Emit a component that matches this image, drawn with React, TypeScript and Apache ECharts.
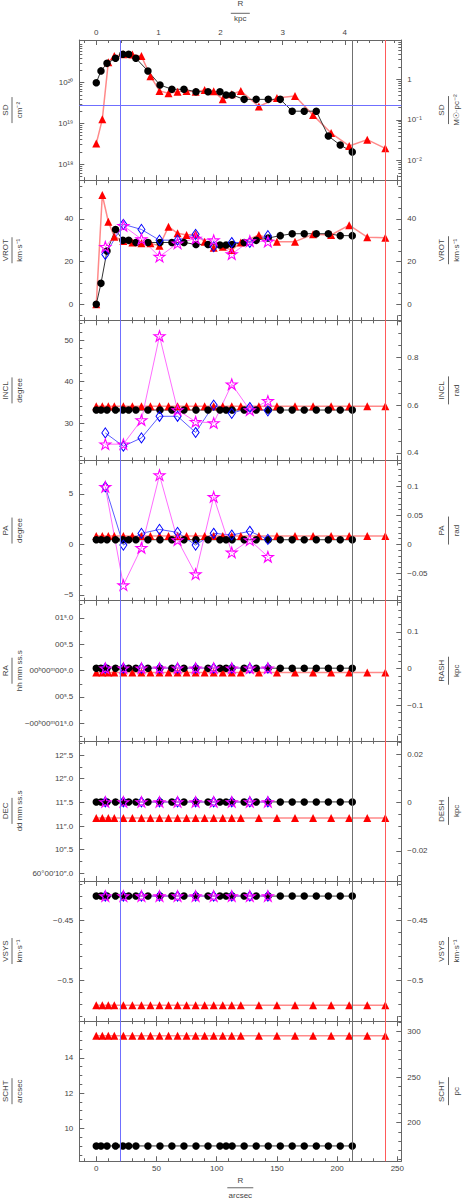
import React, { useEffect, useRef } from 'react';
import * as echarts from 'echarts';

// ---------------- data ----------------
const R_BLACK = [0, 3.9, 8.9, 16, 22.1, 26.9, 32.9, 42.9, 52.9, 62.8, 72.8, 82.8, 92.8, 102.7, 107.8, 112.8, 122.8, 132.8, 142.8, 152.8, 162.7, 172.7, 182.7, 192.7, 202.6, 212.6];
const R_RED = [0, 5, 10, 15, 22.5, 30, 37.5, 45, 52.5, 60, 67.5, 75, 82.5, 90, 97.5, 105, 112.5, 120, 135, 150, 165, 180, 195, 210, 225, 240];
const R_FIT = [7.5, 22.5, 37.5, 52.5, 67.5, 82.5, 97.5, 112.5, 127.5, 142.5];

// surface density, cm^-2
const SD_BLACK = [1.0e20, 1.95e20, 2.99e20, 3.98e20, 5.0e20, 5.0e20, 3.98e20, 1.94e20, 8.8e19, 6.9e19, 6.9e19, 6.0e19, 6.0e19, 6.0e19, 5.0e19, 5.0e19, 3.9e19, 3.9e19, 3.9e19, 3.9e19, 2.0e19, 2.0e19, 2.0e19, 4.9e18, 2.95e18, 2.0e18];
const SD_RED = [3.2e18, 1.26e19, 3.2e20, 4.5e20, 5.0e20, 4.9e20, 4.5e20, 1.45e20, 6.3e19, 5.5e19, 6.0e19, 6.3e19, 6.0e19, 6.6e19, 6.2e19, 3.9e19, 5.2e19, 6.3e19, 2.6e19, 4.2e19, 4.7e19, 1.6e19, 5.8e18, 2.8e18, 4.0e18, 2.45e18];
const SD_CUTOFF = 2.8e19;

// rotation velocity, km/s
const VROT_BLACK = [0, 9.8, 24.9, 35.0, 29.9, 29.9, 28.9, 28.9, 28.9, 28.9, 28.9, 28.0, 28.0, 27.7, 27.7, 28.0, 28.9, 29.9, 31.0, 32.1, 33.0, 33.0, 33.0, 33.0, 32.1, 32.1];
const VROT_RED = [0, 51.1, 38.6, 31.6, 29.6, 28.9, 28.5, 28.5, 27.4, 36.3, 33.2, 32.4, 32.7, 29.3, 26.5, 26.9, 25.4, 28.9, 32.4, 29.3, 29.3, 32.7, 32.4, 37.0, 31.4, 31.1];
const VROT_BLUE = [23.3, 37.4, 35.0, 30.0, 30.0, 32.7, 26.9, 28.9, 28.9, 32.1];
const VROT_MAG = [26.9, 36.7, 30.5, 22.3, 28.5, 30.8, 30.0, 23.5, 29.6, 29.3];

// inclination, degree
const INCL_BLACK = [33.2, 33.2, 33.2, 33.2, 33.2, 33.2, 33.2, 33.2, 33.2, 33.2, 33.2, 33.2, 33.2, 33.2, 33.2, 33.2, 33.2, 33.2, 33.2, 33.2, 33.2, 33.2, 33.2, 33.2, 33.2, 33.2];
const INCL_RED = [34.1, 34.1, 34.1, 34.1, 34.1, 34.1, 34.1, 34.1, 34.1, 34.1, 34.1, 34.1, 34.1, 34.1, 34.1, 34.1, 34.1, 34.1, 34.1, 34.1, 34.1, 34.1, 34.1, 34.1, 34.1, 34.1];
const INCL_BLUE = [27.7, 24.5, 26.5, 31.7, 31.7, 27.8, 34.4, 32.4, 33.8, 33.0];
const INCL_MAG = [25.0, 25.0, 30.8, 51.0, 33.2, 30.4, 30.1, 39.4, 33.2, 35.4];

// position angle, degree
const PA_BLACK = [0.46, 0.46, 0.46, 0.46, 0.46, 0.46, 0.46, 0.46, 0.46, 0.46, 0.46, 0.46, 0.46, 0.46, 0.46, 0.46, 0.46, 0.46, 0.46, 0.46, 0.46, 0.46, 0.46, 0.46, 0.46, 0.46];
const PA_RED = [0.83, 0.83, 0.83, 0.83, 0.83, 0.83, 0.83, 0.83, 0.83, 0.83, 0.83, 0.83, 0.83, 0.83, 0.83, 0.83, 0.83, 0.83, 0.83, 0.83, 0.83, 0.83, 0.83, 0.83, 0.83, 0.83];
const PA_BLUE = [5.7, -0.07, 1.09, 1.48, 1.19, -0.07, 1.1, 0.93, 1.3, 0.5];
const PA_MAG = [5.7, -4.03, -0.33, 6.86, 0.43, -2.94, 4.71, -0.79, 0.43, -1.22];

// RA offset, s
const RA_BLACK = [0.045, 0.045, 0.045, 0.045, 0.045, 0.045, 0.045, 0.045, 0.045, 0.045, 0.045, 0.045, 0.045, 0.045, 0.045, 0.045, 0.045, 0.045, 0.045, 0.045, 0.045, 0.045, 0.045, 0.045, 0.045, 0.045];
const RA_RED = [-0.038, -0.038, -0.038, -0.038, -0.038, -0.038, -0.038, -0.038, -0.038, -0.038, -0.038, -0.038, -0.038, -0.038, -0.038, -0.038, -0.038, -0.038, -0.038, -0.038, -0.038, -0.038, -0.038, -0.038, -0.038, -0.038];
const RA_BLUE = [0.045, 0.045, 0.045, 0.045, 0.045, 0.045, 0.045, 0.045, 0.045, 0.045];
const RA_MAG = [0.045, 0.045, 0.045, 0.045, 0.045, 0.045, 0.045, 0.045, 0.045, 0.045];

// DEC, arcsec (60°00'xx")
const DEC_BLACK = [11.51, 11.51, 11.51, 11.51, 11.51, 11.51, 11.51, 11.51, 11.51, 11.51, 11.51, 11.51, 11.51, 11.51, 11.51, 11.51, 11.51, 11.51, 11.51, 11.51, 11.51, 11.51, 11.51, 11.51, 11.51, 11.51];
const DEC_RED = [11.17, 11.17, 11.17, 11.17, 11.17, 11.17, 11.17, 11.17, 11.17, 11.17, 11.17, 11.17, 11.17, 11.17, 11.17, 11.17, 11.17, 11.17, 11.17, 11.17, 11.17, 11.17, 11.17, 11.17, 11.17, 11.17];
const DEC_BLUE = [11.51, 11.51, 11.51, 11.51, 11.51, 11.51, 11.51, 11.51, 11.51, 11.51];
const DEC_MAG = [11.51, 11.51, 11.51, 11.51, 11.51, 11.51, 11.51, 11.51, 11.51, 11.51];

// systemic velocity, km/s
const VSYS_BLACK = [-0.43, -0.43, -0.43, -0.43, -0.43, -0.43, -0.43, -0.43, -0.43, -0.43, -0.43, -0.43, -0.43, -0.43, -0.43, -0.43, -0.43, -0.43, -0.43, -0.43, -0.43, -0.43, -0.43, -0.43, -0.43, -0.43];
const VSYS_RED = [-0.521, -0.521, -0.521, -0.521, -0.521, -0.521, -0.521, -0.521, -0.521, -0.521, -0.521, -0.521, -0.521, -0.521, -0.521, -0.521, -0.521, -0.521, -0.521, -0.521, -0.521, -0.521, -0.521, -0.521, -0.521, -0.521];
const VSYS_BLUE = [-0.43, -0.43, -0.43, -0.43, -0.43, -0.43, -0.43, -0.43, -0.43, -0.43];
const VSYS_MAG = [-0.43, -0.43, -0.43, -0.43, -0.43, -0.43, -0.43, -0.43, -0.43, -0.43];

// scale height, arcsec
const SCHT_BLACK = [9.0, 9.0, 9.0, 9.0, 9.0, 9.0, 9.0, 9.0, 9.0, 9.0, 9.0, 9.0, 9.0, 9.0, 9.0, 9.0, 9.0, 9.0, 9.0, 9.0, 9.0, 9.0, 9.0, 9.0, 9.0, 9.0];
const SCHT_RED = [15.25, 15.25, 15.25, 15.25, 15.25, 15.25, 15.25, 15.25, 15.25, 15.25, 15.25, 15.25, 15.25, 15.25, 15.25, 15.25, 15.25, 15.25, 15.25, 15.25, 15.25, 15.25, 15.25, 15.25, 15.25, 15.25];

// reference radii (vertical lines)
const R_INNER = 20;
const R_BLACK_END = 212.6;
const R_RED_END = 240;

// tick labels
const X_TICKS = [0, 50, 100, 150, 200, 250];
const KPC_TICKS = [0, 1, 2, 3, 4];
const SCHT_TICKS = [10, 12, 14];
const ARCSEC_PER_KPC = 51.6;
const SD_LOG_OFFSET = 20.09; // log10(cm^-2 per Msun/pc^2)
const PC_PER_ARCSEC = 1000 / ARCSEC_PER_KPC;

// ---------------- styling ----------------
const FONT = '"Liberation Sans", Arial, sans-serif';
const TXT = '#444';
const FRAME = '#666';
const RED = '#ff0000';
const RED_LINE = '#ff8a8a';
const RED_VLINE = '#ff5a5a';
const BLUE = '#0000ff';
const BLUE_LINE = '#5c5cff';
const MAG = '#ff00ff';
const MAG_LINE = '#ff6cff';
const STAR = 'path://M10,0L12.245,6.91L19.51,6.91L13.63,11.18L15.88,18.09L10,13.82L4.12,18.09L6.37,11.18L0.49,6.91L7.755,6.91Z';

const CW = 463, CH = 1199;
const GL = 79.3, GR = 401.3, TOP0 = 40, PH = 140.16;
const XMIN = -14.1, XMAX = 253.3;

const SUP: Record<string, string> = { '0': '⁰', '1': '¹', '2': '²', '3': '³', '4': '⁴', '5': '⁵', '6': '⁶', '7': '⁷', '8': '⁸', '9': '⁹', '-': '⁻' };
const sup = (s: string) => s.split('').map((c) => SUP[c] || c).join('');
const num = (v: number) => (v < 0 ? '−' + String(Math.abs(v)) : String(v));
const key = (v: number) => (Math.round(v * 1000) / 1000).toFixed(3);

function ticksBetween(min: number, max: number, step: number) {
  const out: number[] = [];
  const s = Math.ceil((min - 1e-9) / step);
  const e = Math.floor((max + 1e-9) / step);
  for (let i = s; i <= e; i++) out.push(+(i * step).toFixed(6));
  return out.filter((v) => v > min + 1e-9 && v < max - 1e-9);
}
function minorTicks(min: number, max: number, step: number, major: number) {
  return ticksBetween(min, max, step).filter((v) => Math.abs(v / major - Math.round(v / major)) > 1e-6);
}
function logMinors(min: number, max: number) {
  const out: number[] = [];
  for (let d = Math.floor(min); d <= Math.ceil(max); d++) {
    for (let k = 2; k <= 9; k++) {
      const v = d + Math.log10(k);
      if (v > min && v < max) out.push(v);
    }
  }
  return out;
}

type Side = { min: number; max: number; majors: number[]; minors: number[]; fmt: (v: number) => string };
type Panel = {
  names: [string, string, string, string];
  left: Side;
  right: Side;
  tf?: (v: number) => number;
  black: number[];
  red: number[];
  blue?: number[];
  mag?: number[];
  hline?: number;
};

function mapFmt(m: Record<string, string>) {
  return (v: number) => (m[key(v)] !== undefined ? m[key(v)] : String(v));
}

function side(min: number, max: number, majorStep: number, minorStep: number, fmt: (v: number) => string, majors?: number[]): Side {
  return {
    min, max,
    majors: majors || ticksBetween(min, max, majorStep),
    minors: minorTicks(min, max, minorStep, majorStep),
    fmt,
  };
}

const SD_MIN = 17.607, SD_MAX = 21.049;
const INCL_MIN = 21.08, INCL_MAX = 54.76;
const PA_MIN = -5.57, PA_MAX = 8.31;
const SCHT_MIN = 8.13, SCHT_MAX = 16.08;
const D2R = Math.PI / 180;

const PANELS: Panel[] = [
  {
    names: ['SD', 'cm⁻²', 'SD', 'M☉·pc⁻²'],
    left: { min: SD_MIN, max: SD_MAX, majors: [18, 19, 20], minors: logMinors(SD_MIN, SD_MAX), fmt: (v) => '10' + sup(String(Math.round(v))) },
    right: {
      min: SD_MIN - SD_LOG_OFFSET, max: SD_MAX - SD_LOG_OFFSET, majors: [-2, -1, 0],
      minors: logMinors(SD_MIN - SD_LOG_OFFSET, SD_MAX - SD_LOG_OFFSET),
      fmt: (v) => (Math.round(v) === 0 ? '1' : '10' + sup(String(Math.round(v)))),
    },
    tf: (v) => Math.log10(v),
    black: SD_BLACK, red: SD_RED, hline: SD_CUTOFF,
  },
  {
    names: ['VROT', 'km·s⁻¹', 'VROT', 'km·s⁻¹'],
    left: side(-7.48, 58.04, 20, 5, num),
    right: side(-7.48, 58.04, 20, 5, num),
    black: VROT_BLACK, red: VROT_RED, blue: VROT_BLUE, mag: VROT_MAG,
  },
  {
    names: ['INCL', 'degree', 'INCL', 'rad'],
    left: side(INCL_MIN, INCL_MAX, 10, 2, num),
    right: side(INCL_MIN * D2R, INCL_MAX * D2R, 0.2, 0.05, (v) => v.toFixed(1)),
    black: INCL_BLACK, red: INCL_RED, blue: INCL_BLUE, mag: INCL_MAG,
  },
  {
    names: ['PA', 'degree', 'PA', 'rad'],
    left: side(PA_MIN, PA_MAX, 5, 1, num),
    right: side(PA_MIN * D2R, PA_MAX * D2R, 0.05, 0.01, num),
    black: PA_BLACK, red: PA_RED, blue: PA_BLUE, mag: PA_MAG,
  },
  {
    names: ['RA', 'hh mm ss.s', 'RASH', 'kpc'],
    left: side(-1.33, 1.324, 0.5, 0.25, mapFmt({ '1.000': '01ˢ.0', '0.500': '00ˢ.5', '0.000': '00ʰ00ᵐ00ˢ.0', '-0.500': '00ˢ.5', '-1.000': '−00ʰ00ᵐ01ˢ.0' })),
    right: side(-0.1969, 0.1851, 0.1, 0.02, num),
    black: RA_BLACK, red: RA_RED, blue: RA_BLUE, mag: RA_MAG,
  },
  {
    names: ['DEC', 'dd mm ss.s', 'DESH', 'kpc'],
    left: side(9.839, 12.802, 0.5, 0.25, mapFmt({ '12.500': '12″.5', '12.000': '12″.0', '11.500': '11″.5', '11.000': '11″.0', '10.500': '10″.5', '10.000': '60°00′10″.0' })),
    right: side(-0.0325, 0.0256, 0.02, 0.005, num),
    black: DEC_BLACK, red: DEC_RED, blue: DEC_BLUE, mag: DEC_MAG,
  },
  {
    names: ['VSYS', 'km·s⁻¹', 'VSYS', 'km·s⁻¹'],
    left: side(-0.5342, -0.4174, 0.05, 0.01, num),
    right: side(-0.5342, -0.4174, 0.05, 0.01, num),
    black: VSYS_BLACK, red: VSYS_RED, blue: VSYS_BLUE, mag: VSYS_MAG,
  },
  {
    names: ['SCHT', 'arcsec', 'SCHT', 'pc'],
    left: side(SCHT_MIN, SCHT_MAX, 2, 0.5, num, SCHT_TICKS),
    right: side(SCHT_MIN * PC_PER_ARCSEC, SCHT_MAX * PC_PER_ARCSEC, 50, 10, num),
    black: SCHT_BLACK, red: SCHT_RED,
  },
];

const zip = (xs: number[], ys: number[], tf?: (v: number) => number) => xs.map((x, i) => [x, tf ? tf(ys[i]) : ys[i]]);

function axisPair(gridIndex: number, position: string, s: Side, showLabels: boolean, margin: number) {
  const base: any = { type: 'value', gridIndex, position, min: s.min, max: s.max, splitLine: { show: false }, axisPointer: { show: false }, scale: true };
  return [
    {
      ...base,
      axisLine: { show: true, onZero: false, lineStyle: { color: FRAME, width: 1 } },
      axisTick: { show: true, inside: true, length: 5, customValues: s.majors, lineStyle: { color: FRAME, width: 1 } },
      axisLabel: showLabels
        ? { show: true, customValues: s.majors, formatter: s.fmt, margin, color: TXT, fontSize: 8, fontFamily: FONT }
        : { show: false },
    },
    {
      ...base,
      axisLine: { show: false, onZero: false },
      axisTick: { show: true, inside: true, length: 3, customValues: s.minors, lineStyle: { color: FRAME, width: 1 } },
      axisLabel: { show: false },
    },
  ];
}

function buildOption() {
  const grid: any[] = [];
  const xAxis: any[] = [];
  const yAxis: any[] = [];
  const series: any[] = [];
  const graphic: any[] = [];

  const xArc: Side = { min: XMIN, max: XMAX, majors: X_TICKS, minors: minorTicks(XMIN, XMAX, 10, 50), fmt: (v) => String(v) };
  const kMin = XMIN / ARCSEC_PER_KPC, kMax = XMAX / ARCSEC_PER_KPC;
  const xKpc: Side = { min: kMin, max: kMax, majors: KPC_TICKS, minors: minorTicks(kMin, kMax, 0.2, 1), fmt: (v) => String(v) };

  PANELS.forEach((p, i) => {
    const top = TOP0 + i * PH;
    grid.push({ left: GL, width: GR - GL, top, height: PH, containLabel: false });
    xAxis.push(...axisPair(i, 'bottom', xArc, i === PANELS.length - 1, 3));
    xAxis.push(...axisPair(i, 'top', i === 0 ? xKpc : xArc, i === 0, 4));
    yAxis.push(...axisPair(i, 'left', p.left, true, 6));
    yAxis.push(...axisPair(i, 'right', p.right, true, 6));

    const xi = 4 * i, yi = 4 * i;
    series.push({
      type: 'line', xAxisIndex: xi, yAxisIndex: yi, data: zip(R_RED, p.red, p.tf),
      symbol: 'triangle', symbolSize: 8, itemStyle: { color: RED }, lineStyle: { color: RED_LINE, width: 1.5 },
      emphasis: { disabled: true }, silent: true,
      markLine: {
        silent: true, symbol: ['none', 'none'], label: { show: false }, emphasis: { disabled: true },
        lineStyle: { type: 'solid', width: 1, color: RED_VLINE, opacity: 1 },
        data: [{ xAxis: R_RED_END, lineStyle: { color: RED_VLINE, type: 'solid', width: 1, opacity: 1 } }],
      },
    });
    const ml: any[] = [
      { xAxis: R_INNER, lineStyle: { color: '#6f6fff', type: 'solid', width: 1 } },
      { xAxis: R_BLACK_END, lineStyle: { color: '#707070', type: 'solid', width: 1 } },
    ];
    if (p.hline !== undefined) ml.push({ yAxis: p.tf ? p.tf(p.hline) : p.hline, lineStyle: { color: '#6f6fff', type: 'solid', width: 1 } });
    series.push({
      type: 'line', xAxisIndex: xi, yAxisIndex: yi, data: zip(R_BLACK, p.black, p.tf),
      symbol: 'circle', symbolSize: 7.5, itemStyle: { color: '#000' }, lineStyle: { color: '#333', width: 1 },
      emphasis: { disabled: true }, silent: true,
      markLine: { silent: true, symbol: ['none', 'none'], label: { show: false }, lineStyle: { type: 'solid', width: 1 }, emphasis: { disabled: true }, data: ml },
    });
    if (p.blue) {
      series.push({
        type: 'line', xAxisIndex: xi, yAxisIndex: yi, data: zip(R_FIT, p.blue, p.tf),
        symbol: 'diamond', symbolSize: [7, 10], itemStyle: { color: 'rgba(0,0,0,0)', borderColor: BLUE, borderWidth: 1 },
        lineStyle: { color: BLUE_LINE, width: 1 }, emphasis: { disabled: true }, silent: true,
      });
    }
    if (p.mag) {
      series.push({
        type: 'line', xAxisIndex: xi, yAxisIndex: yi, data: zip(R_FIT, p.mag, p.tf),
        symbol: STAR, symbolSize: 11, symbolKeepAspect: true,
        itemStyle: { color: 'rgba(0,0,0,0)', borderColor: MAG, borderWidth: 1.1 },
        lineStyle: { color: MAG_LINE, width: 1 }, emphasis: { disabled: true }, silent: true,
      });
    }

    // axis names (fraction style, rotated)
    const cy = top + PH / 2;
    const [ln, ld, rn, rd] = p.names;
    const txt = (t: string, x: number, y: number) => ({
      type: 'text', x, y, rotation: Math.PI / 2, silent: true,
      style: { text: t, fill: TXT, fontSize: 8, fontFamily: FONT, align: 'center', verticalAlign: 'middle' },
    });
    const bar = (x: number, len: number) => ({
      type: 'line', silent: true, shape: { x1: x, y1: cy - len / 2, x2: x, y2: cy + len / 2 }, style: { stroke: '#666', lineWidth: 1 },
    });
    graphic.push(txt(ln, 5.5, cy), bar(12, 26), txt(ld, 19.5, cy));
    graphic.push(txt(rn, 441, cy), bar(448.5, 28), txt(rd, 456.5, cy));
  });

  // R / kpc (top) and R / arcsec (bottom)
  const cx = (GL + GR) / 2;
  const htxt = (t: string, x: number, y: number) => ({
    type: 'text', x, y, silent: true,
    style: { text: t, fill: TXT, fontSize: 8, fontFamily: FONT, align: 'center', verticalAlign: 'middle' },
  });
  const hbar = (y: number, len: number) => ({
    type: 'line', silent: true, shape: { x1: cx - len / 2, y1: y, x2: cx + len / 2, y2: y }, style: { stroke: '#666', lineWidth: 1 },
  });
  const bottom = TOP0 + PANELS.length * PH;
  graphic.push(htxt('R', cx, 3), hbar(13.3, 19), htxt('kpc', cx, 18.8));
  graphic.push(htxt('R', cx, bottom + 19.5), hbar(bottom + 26.5, 26), htxt('arcsec', cx, bottom + 34.5));

  return {
    animation: false,
    backgroundColor: '#fff',
    grid, xAxis, yAxis, series, graphic,
  };
}

export default function App() {
  const ref = useRef<HTMLDivElement>(null);
  useEffect(() => {
    if (!ref.current) return;
    const chart = echarts.init(ref.current, undefined, { renderer: 'svg' });
    chart.setOption(buildOption() as any);
    return () => chart.dispose();
  }, []);
  return <div ref={ref} style={{ position: 'absolute', left: 0, top: 0, width: CW, height: CH, background: '#fff' }} />;
}
